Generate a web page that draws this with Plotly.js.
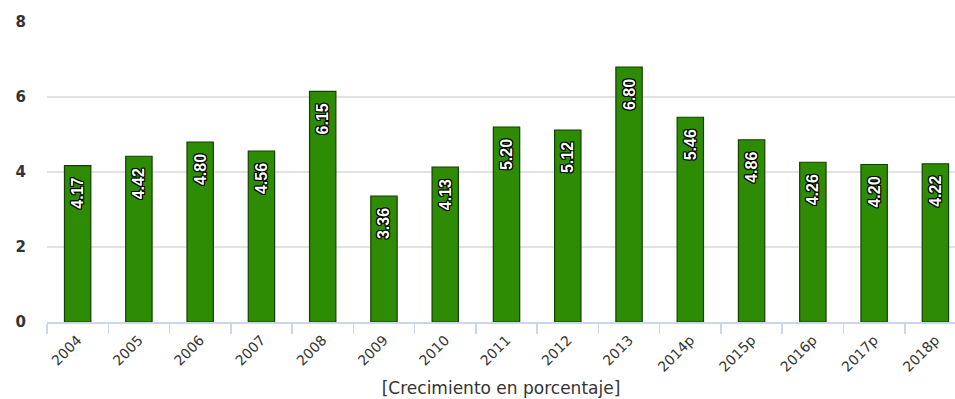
<!DOCTYPE html>
<html>
<head>
<meta charset="utf-8">
<script src="https://cdn.plot.ly/plotly-3.0.1.min.js"></script>
<style>html,body{margin:0;padding:0;background:#fff;}#chart{width:955px;height:399px;}</style>
</head>
<body>
<div id="chart"></div>
<script>
const categories = ["2004","2005","2006","2007","2008","2009","2010","2011","2012","2013","2014p","2015p","2016p","2017p","2018p"];
const values = [4.17,4.42,4.80,4.56,6.15,3.36,4.13,5.20,5.12,6.80,5.46,4.86,4.26,4.20,4.22];
const valueLabels = values.map(v => v.toFixed(2));
const yTicks = [0,2,4,6,8];

const trace = {
  type: "bar",
  x: categories,
  y: values,
  width: 0.43,
  marker: {color: "#2e8b04", line: {color: "#153f00", width: 1.2}},
  text: valueLabels.map(t => t + "  "),
  textposition: "inside",
  insidetextanchor: "end",
  textangle: -90,
  constraintext: "none",
  insidetextfont: {
    family: "Liberation Sans Narrow, Liberation Sans, Arial",
    size: 16,
    color: "#ffffff",
    weight: 700,
    shadow: "1px 1px 0 #000, -1px -1px 0 #000, 1px -1px 0 #000, -1px 1px 0 #000, 0 1px 0 #000, 0 -1px 0 #000, 1px 0 0 #000, -1px 0 0 #000"
  },
  hoverinfo: "x+y"
};

const layout = {
  width: 955, height: 399,
  margin: {l: 47, r: 0, t: 22, b: 77},
  paper_bgcolor: "#ffffff", plot_bgcolor: "#ffffff",
  showlegend: false,
  xaxis: {
    type: "category",
    range: [-0.5, 14.32],
    tickson: "boundaries",
    ticks: "outside", ticklen: 10, tickwidth: 1.5, tickcolor: "#ccd6eb",
    showline: true, linecolor: "#ccd6eb", linewidth: 1.5,
    showgrid: false,
    tickangle: -45,
    ticklabelstandoff: 3,
    tickfont: {family: "DejaVu Sans, Verdana", size: 14, color: "#333"},
    title: {text: "[Crecimiento en porcentaje]", font: {family: "DejaVu Sans, Verdana", size: 17, color: "#333"}, standoff: 8},
    automargin: false,
    fixedrange: true
  },
  yaxis: {
    range: [0, 8],
    tickvals: yTicks,
    ticktext: yTicks.map(String),
    showgrid: true, gridcolor: "#e2e2e2", gridwidth: 1.5,
    zeroline: false,
    showline: false,
    ticks: "",
    ticklabelstandoff: 20,
    tickfont: {family: "DejaVu Sans, Verdana", size: 15, color: "#333", weight: 700},
    fixedrange: true
  }
};

Plotly.newPlot("chart", [trace], layout, {displayModeBar: false, staticPlot: true});
</script>
</body>
</html>
